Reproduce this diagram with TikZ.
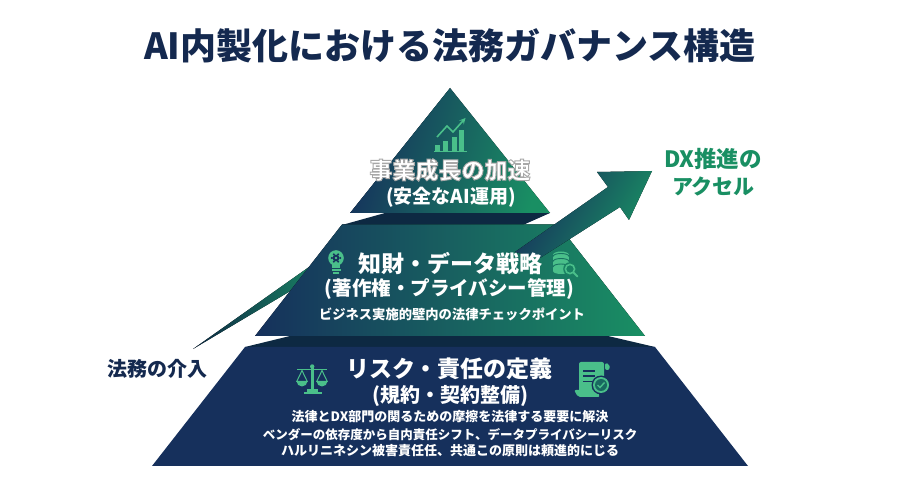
\documentclass[tikz,border=0pt]{standalone}
\usepackage{fontspec}
\setmainfont{Noto Sans CJK JP}
\newlength{\du}
\setlength{\du}{1pt}
\newcommand{\halotext}[1]{\special{pdf:code q 2 Tr 0.66 G 0.9 w}#1\special{pdf:code Q}}
\definecolor{titlecolor}{rgb}{0.078000, 0.161000, 0.310000}
\definecolor{navycolor}{rgb}{0.086000, 0.190000, 0.360000}
\definecolor{bandcolor}{rgb}{0.050000, 0.160000, 0.260000}
\definecolor{greencolor}{rgb}{0.100000, 0.560000, 0.390000}
\definecolor{iconcolor}{rgb}{0.290000, 0.750000, 0.540000}
\tikzset{
  tierhead/.style={text=white,font=\bfseries\fontsize{23}{27}\selectfont,inner sep=0pt},
  tiersub/.style={text=white,font=\bfseries\fontsize{19.5}{23}\selectfont,inner sep=0pt},
  tiersmall/.style={text=white,font=\bfseries\fontsize{13}{15}\selectfont,inner sep=0pt},
  tierfade/.style={left color=navycolor,right color=greencolor},
  iconfill/.style={fill=iconcolor,draw=none},
  iconline/.style={draw=iconcolor,line width=1.600000\du}
}
\begin{document}
\begin{tikzpicture}
\pgftransformxscale{1.000000}
\pgftransformyscale{-1.000000}
\useasboundingbox (0.000000\du,0.000000\du) rectangle (900.000000\du,502.000000\du);
% title
\node[text=titlecolor,font=\bfseries\fontsize{36}{42}\selectfont,inner sep=0pt] (title) at (450.000000\du,46.000000\du){AI内製化における法務ガバナンス構造};
% thin arrow behind the middle tier
\fill[left color=bandcolor,right color=greencolor!80!navycolor] (193.000000\du,349.000000\du)--(309.000000\du,267.000000\du)--(300.000000\du,285.000000\du)--(287.000000\du,293.000000\du)--cycle;
% bands between the tiers
\fill[bandcolor] (385.000000\du,213.000000\du)--(342.000000\du,225.000000\du)--(523.000000\du,225.000000\du)--(550.000000\du,213.000000\du)--cycle;
\fill[bandcolor] (290.000000\du,336.000000\du)--(245.000000\du,347.000000\du)--(655.000000\du,347.000000\du)--(608.000000\du,336.000000\du)--cycle;
% tiers
\fill[tierfade,shading angle=75] (450.000000\du,88.000000\du)--(350.000000\du,213.000000\du)--(550.000000\du,213.000000\du)--cycle;
\fill[tierfade] (342.000000\du,224.500000\du)--(255.000000\du,336.000000\du)--(645.000000\du,336.000000\du)--(558.000000\du,224.500000\du)--cycle;
\fill[navycolor] (245.000000\du,347.000000\du)--(152.000000\du,466.000000\du)--(748.000000\du,466.000000\du)--(655.000000\du,347.000000\du)--cycle;
% big arrow
\fill[left color=navycolor,right color=greencolor,shading angle=60] (515.000000\du,252.000000\du)--(608.000000\du,187.000000\du)--(597.000000\du,172.000000\du)--(652.000000\du,171.000000\du)--(629.000000\du,220.000000\du)--(620.000000\du,207.000000\du)--(540.000000\du,258.000000\du)--cycle;
% chart icon
\fill[iconfill] (435.000000\du,145.000000\du) rectangle (440.000000\du,151.000000\du);
\fill[iconfill] (443.000000\du,141.000000\du) rectangle (448.000000\du,151.000000\du);
\fill[iconfill] (451.500000\du,137.000000\du) rectangle (456.500000\du,151.000000\du);
\fill[iconfill] (459.000000\du,130.000000\du) rectangle (464.000000\du,151.000000\du);
\fill[iconfill] (433.500000\du,151.500000\du) rectangle (467.000000\du,152.500000\du);
{
\pgfsetarrowsend{stealth}
\draw[iconline] (437.000000\du,137.000000\du)--(447.000000\du,126.000000\du)--(453.000000\du,132.000000\du)--(465.500000\du,118.000000\du);
}
% bulb icon
\fill[iconfill] (336.000000\du,258.000000\du) circle (7.800000\du);
\fill[iconfill] (332.000000\du,262.000000\du) rectangle (340.000000\du,268.500000\du);
\fill[iconfill] (331.500000\du,269.500000\du) rectangle (340.500000\du,271.500000\du);
\fill[iconfill] (333.000000\du,272.500000\du) rectangle (339.000000\du,274.500000\du);
\foreach \a in {0,60,...,300}
  \fill[navycolor] (336.000000\du,258.000000\du) ++(\a:4.200000\du) circle (1.200000\du);
\fill[navycolor] (336.000000\du,258.000000\du) circle (3.400000\du);
\fill[iconfill] (336.000000\du,258.000000\du) circle (1.300000\du);
% database icon
\fill[iconfill] (553.000000\du,255.000000\du) rectangle (569.000000\du,271.000000\du);
\fill[iconfill] (561.000000\du,271.000000\du) ellipse ({8.000000\du} and {3.000000\du});
\fill[iconfill] (561.000000\du,255.000000\du) ellipse ({8.000000\du} and {3.500000\du});
\draw[greencolor!70!navycolor,line width=0.900000\du] (553.000000\du,256.500000\du) arc (180:0:{8.000000\du} and {-3.000000\du});
\draw[greencolor!70!navycolor,line width=0.900000\du] (553.000000\du,261.500000\du) arc (180:0:{8.000000\du} and {-3.000000\du});
\draw[greencolor!70!navycolor,line width=0.900000\du] (553.000000\du,267.000000\du) arc (180:0:{8.000000\du} and {-3.000000\du});
\fill[greencolor!85!navycolor] (570.000000\du,269.000000\du) circle (6.800000\du);
\draw[iconline] (570.000000\du,269.000000\du) circle (4.600000\du);
\draw[iconline,line width=2.000000\du,line cap=round] (573.500000\du,272.500000\du)--(577.500000\du,276.500000\du);
% scales icon
\fill[iconfill] (311.000000\du,367.000000\du) rectangle (313.500000\du,390.000000\du);
\fill[iconfill] (312.200000\du,366.500000\du) circle (2.200000\du);
\fill[iconfill] (307.000000\du,389.500000\du) rectangle (317.500000\du,392.000000\du);
\fill[iconfill] (304.000000\du,392.000000\du) rectangle (321.500000\du,394.500000\du);
\draw[iconline] (297.000000\du,369.500000\du)--(327.000000\du,369.500000\du);
\draw[iconline,line width=1.000000\du] (296.500000\du,382.000000\du)--(302.000000\du,370.500000\du)--(307.500000\du,382.000000\du);
\draw[iconline,line width=1.000000\du] (316.500000\du,382.000000\du)--(322.000000\du,370.500000\du)--(327.500000\du,382.000000\du);
\fill[iconfill] (296.500000\du,381.000000\du) arc (180:0:{5.500000\du} and {5.500000\du})--cycle;
\fill[iconfill] (316.500000\du,381.000000\du) arc (180:0:{5.500000\du} and {5.500000\du})--cycle;
% document icon
\fill[iconfill,rounded corners=2.000000\du] (579.000000\du,362.000000\du)--(604.000000\du,362.000000\du)--(604.000000\du,388.000000\du)--(590.000000\du,390.000000\du)--(590.000000\du,396.500000\du)--(579.000000\du,396.500000\du)--cycle;
\fill[iconfill,rounded corners=2.000000\du] (574.000000\du,390.000000\du)--(597.000000\du,390.000000\du)--(600.000000\du,397.000000\du)--(578.000000\du,397.000000\du)--cycle;
\fill[iconfill,rounded corners=2.000000\du] (605.000000\du,363.000000\du)--(609.500000\du,364.000000\du)--(609.500000\du,370.000000\du)--(605.000000\du,370.000000\du)--cycle;
\draw[navycolor,line width=1.700000\du] (583.000000\du,371.000000\du)--(595.000000\du,371.000000\du);
\draw[navycolor,line width=1.700000\du] (583.000000\du,376.000000\du)--(595.000000\du,376.000000\du);
\draw[navycolor,line width=1.700000\du] (583.000000\du,381.500000\du)--(592.000000\du,381.500000\du);
\fill[navycolor] (601.000000\du,385.000000\du) circle (9.500000\du);
\fill[iconfill] (601.000000\du,385.000000\du) circle (8.000000\du);
\fill[greencolor!60!navycolor] (601.000000\du,385.000000\du) circle (6.000000\du);
\draw[iconline,line width=1.400000\du] (597.500000\du,385.000000\du)--(600.000000\du,387.500000\du)--(604.500000\du,382.500000\du);
% tier 1
\node[tierhead] (growth) at (450.000000\du,170.000000\du){\halotext{事業成長の加速}};
\node[tiersub,font=\bfseries\fontsize{19}{23}\selectfont] (growthsub) at (451.000000\du,197.000000\du){(安全なAI運用)};
% tier 2
\node[tierhead] (ipdata) at (450.000000\du,264.000000\du){知財・データ戦略};
\node[tiersub] (ipdatasub) at (449.500000\du,289.000000\du){(著作権・プライバシー管理)};
\node[tiersmall,font=\bfseries\fontsize{13.3}{15}\selectfont] (ipdatanote) at (452.000000\du,314.000000\du){ビジネス実施的壁内の法律チェックポイント};
% tier 3
\node[tierhead] (risk) at (449.500000\du,369.000000\du){リスク・責任の定義};
\node[tiersub,font=\bfseries\fontsize{20}{24}\selectfont] (risksub) at (450.000000\du,396.000000\du){(規約・契約整備)};
\node[tiersmall] (risknotea) at (450.000000\du,417.000000\du){法律とDX部門の関るための摩擦を法律する要要に解決};
\node[tiersmall,font=\bfseries\fontsize{12.5}{15}\selectfont] (risknoteb) at (450.000000\du,435.000000\du){ベンダーの依存度から自内責任シフト、データプライバシーリスク};
\node[tiersmall] (risknotec) at (450.000000\du,451.000000\du){ハルリニネシン被害責任任、共通この原則は頼進的にじる};
% side labels
\node[text=greencolor,font=\bfseries\fontsize{22.5}{26}\selectfont,inner sep=0pt] (dxa) at (713.000000\du,159.000000\du){DX推進の};
\node[text=greencolor,font=\bfseries\fontsize{21}{26}\selectfont,inner sep=0pt] (dxb) at (713.500000\du,187.000000\du){アクセル};
\node[text=titlecolor,font=\bfseries\fontsize{20}{23}\selectfont,inner sep=0pt] (legal) at (157.000000\du,369.000000\du){法務の介入};
\end{tikzpicture}
\end{document}
